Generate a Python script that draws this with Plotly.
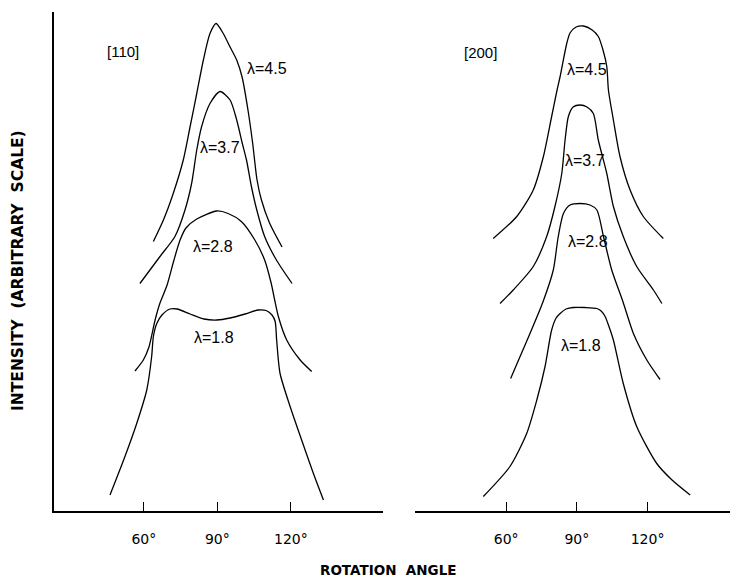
import plotly.graph_objects as go

# ---- [110] reflection: azimuthal intensity profiles ----
ang_110_l45 = [63.9, 68.0, 72.0, 76.1, 78.9, 81.6, 84.3, 87.0, 89.5, 92.4, 95.2, 97.9, 100.1, 102.5, 104.4, 106.2, 108.0, 111.3, 116.4]
int_110_l45 = [53.9, 58.2, 63.5, 70.2, 76.9, 83.5, 90.2, 95.5, 97.5, 95.5, 92.8, 90.2, 86.8, 80.2, 73.6, 66.2, 62.2, 57.6, 52.8]

ang_110_l37 = [58.4, 66.6, 72.7, 76.8, 79.5, 81.6, 83.6, 87.0, 91.1, 95.2, 97.9, 100.2, 101.9, 103.9, 106.1, 109.3, 114.1, 120.5]
int_110_l37 = [45.5, 50.9, 54.9, 60.2, 65.5, 72.2, 76.9, 81.5, 83.9, 82.2, 78.2, 73.5, 70.2, 64.9, 60.2, 54.9, 50.2, 45.5]

ang_110_l28 = [56.4, 59.8, 62.1, 64.6, 66.6, 69.5, 72.3, 74.8, 77.2, 81.6, 89.7, 94.4, 99.8, 105.3, 109.3, 112.0, 113.4, 114.9, 118.3, 123.8, 128.5]
int_110_l28 = [28.0, 30.2, 32.8, 38.2, 41.6, 45.2, 50.2, 54.2, 56.6, 58.4, 60.0, 59.5, 57.9, 54.2, 50.2, 45.5, 42.2, 38.9, 34.2, 30.2, 27.9]

ang_110_l18 = [46.2, 52.3, 57.1, 61.2, 63.2, 63.9, 65.3, 67.4, 70.7, 73.6, 78.9, 84.6, 89.8, 95.2, 101.3, 106.7, 109.9, 112.3, 113.6, 114.2, 115.6, 119.7, 124.4, 129.2, 133.3]
int_110_l18 = [3.2, 10.9, 17.5, 24.2, 30.9, 34.9, 37.5, 39.2, 40.4, 40.4, 39.4, 38.4, 38.2, 38.6, 39.4, 40.2, 40.1, 39.2, 37.9, 34.2, 27.5, 20.9, 14.2, 7.5, 2.2]

# ---- [200] reflection ----
ang_200_l45 = [54.5, 64.5, 71.5, 75.8, 79.3, 81.6, 82.9, 85.7, 87.1, 89.7, 92.8, 96.5, 99.1, 101.1, 102.7, 103.4, 105.5, 108.3, 112.6, 118.2, 126.7]
int_200_l45 = [54.5, 58.9, 64.2, 70.9, 78.9, 84.2, 86.9, 93.5, 95.6, 96.8, 97.0, 96.2, 94.9, 92.2, 88.9, 84.2, 78.2, 70.9, 64.2, 58.9, 54.5]

ang_200_l37 = [57.4, 63.0, 71.5, 77.2, 80.7, 83.6, 85.0, 86.4, 88.4, 91.4, 94.3, 97.0, 99.1, 102.7, 105.5, 109.7, 115.4, 122.5, 126.1]
int_200_l37 = [41.5, 44.2, 48.9, 54.9, 60.9, 67.5, 74.2, 78.9, 80.8, 81.2, 80.8, 79.5, 74.2, 67.5, 60.9, 54.9, 48.9, 44.2, 41.5]

ang_200_l28 = [61.9, 65.9, 70.1, 75.6, 80.0, 82.1, 84.3, 87.1, 91.4, 95.6, 98.5, 101.3, 104.8, 109.6, 114.0, 119.7, 125.3]
int_200_l28 = [26.5, 30.9, 35.5, 41.8, 48.2, 54.9, 59.5, 61.2, 61.5, 61.2, 60.2, 54.9, 48.2, 41.8, 35.5, 30.2, 26.3]

ang_200_l18 = [50.3, 61.6, 68.7, 73.0, 76.5, 79.3, 81.2, 82.9, 85.4, 88.5, 93.5, 98.5, 100.3, 102.0, 103.7, 105.5, 109.7, 115.4, 123.9, 130.4, 138.1]
int_200_l18 = [2.9, 8.9, 15.5, 22.2, 28.9, 36.2, 38.6, 39.5, 40.4, 40.7, 40.7, 40.5, 40.0, 38.9, 36.8, 34.2, 25.5, 16.9, 9.5, 6.2, 3.2]

# curve labels (draw ratio) and their anchor positions in data units
labels_110 = ["λ=4.5", "λ=3.7", "λ=2.8", "λ=1.8"]
lab_ang_110 = [110.1, 90.9, 88.4, 88.5]
lab_int_110 = [88.5, 72.7, 52.9, 34.8]

labels_200 = ["λ=4.5", "λ=3.7", "λ=2.8", "λ=1.8"]
lab_ang_200 = [94.1, 93.5, 94.8, 91.8]
lab_int_200 = [88.2, 70.1, 53.9, 33.2]

tick_vals = [60, 90, 120]
tick_text = ["60°", "90°", "120°"]

FONT = "Liberation Sans, Arial, sans-serif"
WIDE = "DejaVu Sans, sans-serif"
LINE = dict(color="black", width=1.3)

fig = go.Figure()

panel_110 = [(ang_110_l45, int_110_l45), (ang_110_l37, int_110_l37),
             (ang_110_l28, int_110_l28), (ang_110_l18, int_110_l18)]
panel_200 = [(ang_200_l45, int_200_l45), (ang_200_l37, int_200_l37),
             (ang_200_l28, int_200_l28), (ang_200_l18, int_200_l18)]

for a, i in panel_110:
    fig.add_trace(go.Scatter(x=a, y=i, mode="lines", line=dict(**LINE, shape="spline", smoothing=0.7),
                             xaxis="x", yaxis="y", showlegend=False, hoverinfo="skip"))
for a, i in panel_200:
    fig.add_trace(go.Scatter(x=a, y=i, mode="lines", line=dict(**LINE, shape="spline", smoothing=0.7),
                             xaxis="x2", yaxis="y2", showlegend=False, hoverinfo="skip"))

annotations = []
for t, a, i in zip(labels_110, lab_ang_110, lab_int_110):
    annotations.append(dict(x=a, y=i, xref="x", yref="y", text=t, showarrow=False,
                            font=dict(family=FONT, size=16, color="black")))
for t, a, i in zip(labels_200, lab_ang_200, lab_int_200):
    annotations.append(dict(x=a, y=i, xref="x2", yref="y2", text=t, showarrow=False,
                            font=dict(family=FONT, size=16, color="black")))

annotations += [
    dict(x=51.7, y=91.8, xref="x", yref="y", text="[110]", showarrow=False,
         font=dict(family=FONT, size=15, color="black")),
    dict(x=48.9, y=91.6, xref="x2", yref="y2", text="[200]", showarrow=False,
         font=dict(family=FONT, size=15, color="black")),
    dict(x=18 / 730, y=1 - 271 / 578, xref="paper", yref="paper", xanchor="center", yanchor="middle",
         text="<b>INTENSITY  (ARBITRARY  SCALE)</b>", textangle=-90, showarrow=False,
         font=dict(family=WIDE, size=15.5, color="black")),
    dict(x=388 / 730, y=1 - 570 / 578, xref="paper", yref="paper", xanchor="center", yanchor="middle",
         text="<b>ROTATION  ANGLE</b>", showarrow=False,
         font=dict(family=WIDE, size=13.5, color="black")),
]

ydom = [(578 - 511) / 578, (578 - 12) / 578]

xaxis_common = dict(
    showgrid=False, zeroline=False, showline=True, linecolor="black", linewidth=1.6,
    ticks="inside", ticklen=9, tickwidth=1.3, tickcolor="black",
    tickvals=tick_vals, ticktext=tick_text, ticklabelstandoff=14,
    tickfont=dict(family=WIDE, size=14, color="black"),
)

fig.update_layout(
    width=730, height=578,
    margin=dict(l=0, r=0, t=0, b=0),
    template="none",
    paper_bgcolor="white", plot_bgcolor="white",
    xaxis=dict(domain=[54 / 730, 383 / 730], range=[23.35, 157.6], anchor="y", **xaxis_common),
    xaxis2=dict(domain=[415 / 730, 1.0], range=[21.3, 155.0], anchor="y2", **xaxis_common),
    yaxis=dict(domain=ydom, range=[0, 99.8], showgrid=False, zeroline=False, showline=True,
               linecolor="black", linewidth=1.8, ticks="", showticklabels=False, anchor="x"),
    yaxis2=dict(domain=ydom, range=[0, 99.8], showgrid=False, zeroline=False, showline=False,
                ticks="", showticklabels=False, anchor="x2"),
    annotations=annotations,
)

fig.write_html("out.html")
